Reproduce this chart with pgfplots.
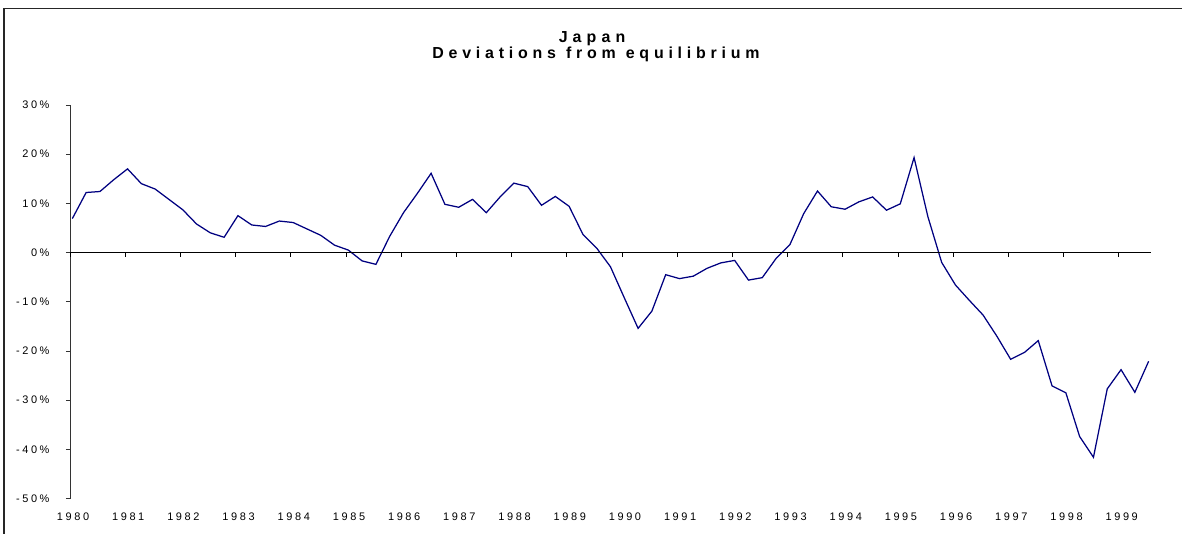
\documentclass[border=0pt]{standalone}
\usepackage{fontspec}
\setmainfont{Liberation Sans}
\newfontfamily\tickfont[LetterSpace=24]{Liberation Sans}
\newfontfamily\titlefont[LetterSpace=32]{Liberation Sans Bold}
\newfontfamily\subtitlefont[LetterSpace=30]{Liberation Sans Bold}
\usepackage{pgfplots}
\pgfplotsset{compat=1.18}
\definecolor{navyline}{RGB}{0,0,128}
\pgfplotstableread{
q v
0 6.9
1 12.2
2 12.4
3 14.8
4 17.0
5 14.0
6 12.9
7 10.8
8 8.7
9 5.8
10 4.0
11 3.1
12 7.5
13 5.6
14 5.3
15 6.4
16 6.1
17 4.8
18 3.5
19 1.5
20 0.5
21 -1.7
22 -2.4
23 3.3
24 8.1
25 12.0
26 16.1
27 9.8
28 9.2
29 10.8
30 8.1
31 11.3
32 14.1
33 13.4
34 9.6
35 11.4
36 9.4
37 3.7
38 0.9
39 -2.9
40 -9.2
41 -15.4
42 -11.9
43 -4.5
44 -5.3
45 -4.8
46 -3.2
47 -2.1
48 -1.6
49 -5.6
50 -5.1
51 -1.2
52 1.6
53 7.9
54 12.5
55 9.3
56 8.8
57 10.3
58 11.3
59 8.6
60 9.9
61 19.3
62 7.3
63 -2.0
64 -6.6
65 -9.7
66 -12.7
67 -17.0
68 -21.7
69 -20.3
70 -17.9
71 -27.1
72 -28.5
73 -37.4
74 -41.6
75 -27.7
76 -23.8
77 -28.4
78 -22.1
}\japan
\begin{document}
\begin{tikzpicture}
\useasboundingbox (0,0) rectangle (1182bp,534bp);
\draw[line width=1.5bp, black!85] (4bp,0) -- (4bp,525.5bp) -- (1182bp,525.5bp);
\node[anchor=base, font=\titlefont\fontsize{16}{18}\selectfont] at (592bp,491.3bp) {Japan};
\node[anchor=base, font=\subtitlefont\fontsize{16}{18}\selectfont] at (596bp,475bp) {\mbox{Deviations}\kern 10bp\mbox{from}\kern 10bp\mbox{equilibrium}};
% main axis: y axis line, labels
\begin{axis}[
  at={(70bp,35.4bp)}, anchor=south west,
  scale only axis, width=1081bp, height=393.7bp,
  xmin=-0.17, xmax=78.17, ymin=-50, ymax=30,
  axis y line=left, axis x line=bottom,
  x axis line style={draw=none},
  axis line style={-, black!80, line width=0.8bp},
  ytick={-50,-40,...,30},
  yticklabels={-50\%,-40\%,-30\%,-20\%,-10\%,0\%,10\%,20\%,30\%},
  ytick align=outside, major tick length=4bp,
  ytick style={black!80, line width=0.8bp},
  xtick={-0.17,3.83,...,76},
  xticklabels={1980,1981,1982,1983,1984,1985,1986,1987,1988,1989,1990,1991,1992,1993,1994,1995,1996,1997,1998,1999},
  xtick style={draw=none},
  tick label style={font=\tickfont\fontsize{11}{12}\selectfont, black},
  yticklabel style={xshift=-13bp},
  xticklabel style={yshift=-9bp, xshift=3bp},
  clip=false,
]
\addplot[navyline, line width=1.25bp, mark=none] table[x=q, y=v] {\japan};
\end{axis}
% zero line with ticks
\begin{axis}[
  at={(70bp,35.4bp)}, anchor=south west,
  scale only axis, width=1081bp, height=393.7bp,
  xmin=-0.17, xmax=78.17, ymin=-50, ymax=30,
  axis x line=middle, axis y line=none,
  axis line style={-, black, line width=0.9bp},
  xtick={-0.17,3.83,...,76}, xticklabels={},
  xtick align=outside, major tick length=4bp,
  xtick style={black, line width=0.8bp},
  ytick=\empty,
]
\end{axis}
\end{tikzpicture}
\end{document}
